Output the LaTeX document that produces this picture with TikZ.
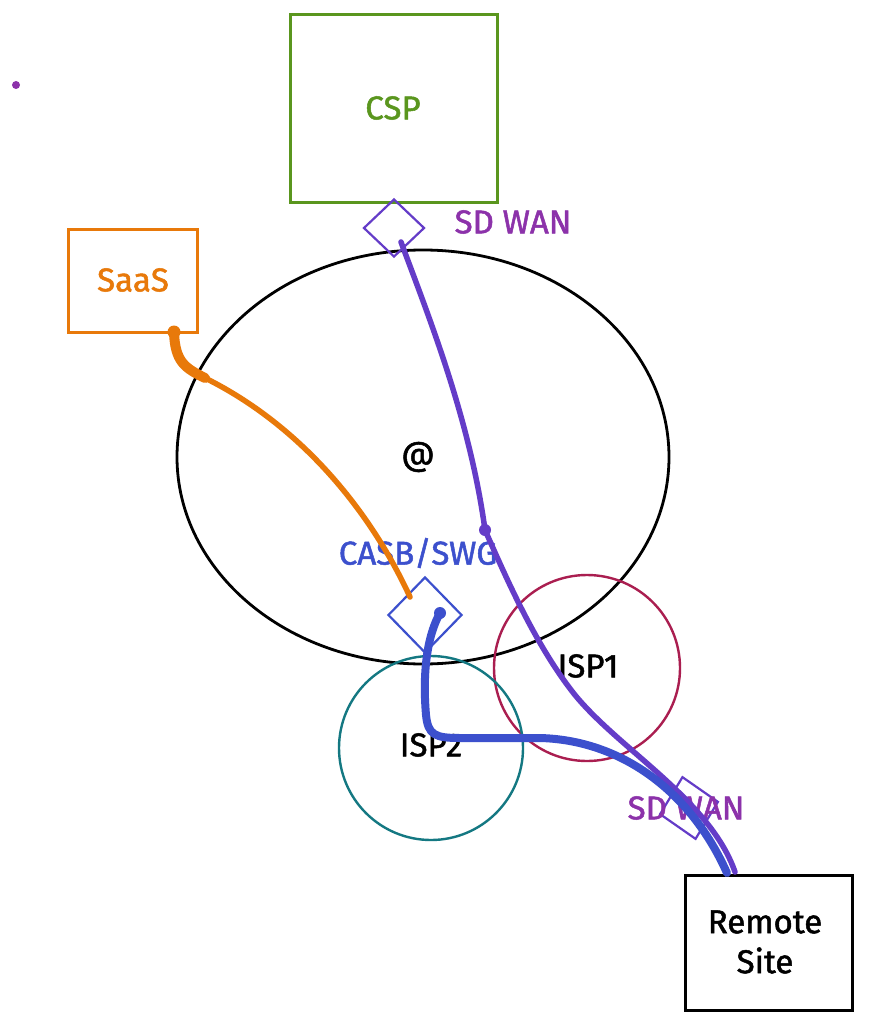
\documentclass[tikz,border=0pt]{standalone}
\usepackage{fontspec}
\setmainfont{Fira Sans}
\newfontfamily\sketchfont{Fira Sans}[FakeBold=1.5]
\usetikzlibrary{shapes.geometric}
\definecolor{cspgreen}{RGB}{90,150,30}
\definecolor{saasorange}{RGB}{232,121,10}
\definecolor{sdpurple}{RGB}{140,50,170}
\definecolor{linepurple}{RGB}{100,60,200}
\definecolor{casbblue}{RGB}{60,80,205}
\definecolor{ispred}{RGB}{170,30,80}
\definecolor{ispteal}{RGB}{20,120,130}
\tikzset{
  boxstyle/.style={draw, rectangle, line width=3pt, inner sep=0pt},
  ringstyle/.style={draw, circle, line width=2.4pt, inner sep=0pt},
  gatestyle/.style={draw, diamond, line width=2.2pt, inner sep=0pt},
  lbl/.style={font=\sketchfont\fontsize{33}{40}\selectfont},
}
\begin{document}
\begin{tikzpicture}[x=1pt,y=-1pt]
\useasboundingbox[fill=white] (0,0) rectangle (869,1024);

% decorative dot
\fill[sdpurple] (16,85) circle (4);

% big internet ellipse
\node[draw, ellipse, line width=2.8pt, minimum width=492pt, minimum height=414pt, inner sep=0pt] (net) at (423,457) {};
\node[lbl] (at) at (418,457) {@};

% ISP circles
\node[ringstyle, draw=ispred, minimum size=186pt] (isp1) at (587,668) {};
\node[ringstyle, draw=ispteal, minimum size=184pt] (isp2) at (431,748) {};
\node[lbl] (isp1t) at (588,666) {ISP1};
\node[lbl] (isp2t) at (431,745) {ISP2};

% boxes
\node[boxstyle, draw=cspgreen, minimum width=207pt, minimum height=188pt] (csp) at (393.5,109) {};
\node[lbl, text=cspgreen] (csplbl) at (393,108) {CSP};
\node[boxstyle, draw=saasorange, minimum width=129pt, minimum height=102pt] (saas) at (132.5,281) {};
\node[lbl, text=saasorange] (saaslbl) at (133,280) {SaaS};
\node[boxstyle, draw=black, minimum width=167pt, minimum height=135pt] (remote) at (768.5,942.5) {};
\node[lbl, align=center] (remotelbl) at (765,942) {Remote\\ Site};

% gateways
\node[gatestyle, draw=linepurple, minimum width=61pt, minimum height=58pt] (sdtop) at (394,228) {};
\node[lbl, text=sdpurple] (sdtoplbl) at (513,222) {SD WAN};
\node[gatestyle, draw=casbblue, minimum width=74pt, minimum height=76pt] (casb) at (425,615) {};
\node[lbl, text=casbblue] (casblbl) at (418,553) {CASB/SWG};
\node[gatestyle, draw=linepurple, minimum width=60pt, minimum height=64pt, rotate=12] (sdlow) at (689,808) {};
\node[lbl, text=sdpurple] (sdlowlbl) at (686,808) {SD WAN};

% connector coordinates
\coordinate (oStart) at (174,332);
\coordinate (oMid) at (205,378);
\coordinate (oEnd) at (410,597);
\coordinate (pStart) at (401,242);
\coordinate (pMid) at (485,530);
\coordinate (pEnd) at (735,872);
\coordinate (bStart) at (440,613);
\coordinate (bEnd) at (727,873);

% SaaS -> CASB (orange)
\draw[saasorange, line width=10pt, line cap=round] (oStart) .. controls (175,362) and (185,368) .. (oMid);
\draw[saasorange, line width=5.5pt, line cap=round] (oMid) .. controls (300,425) and (370,510) .. (oEnd);
\fill[saasorange] (oStart) circle (6.5);

% CSP SD WAN -> Remote Site (purple)
\draw[linepurple, line width=5.5pt, line cap=round]
  (pStart) .. controls (430,320) and (470,420) .. (pMid)
  .. controls (505,575) and (535,645) .. (575,695)
  .. controls (620,750) and (710,800) .. (pEnd);
\fill[linepurple] (pMid) circle (6);

% CASB -> Remote Site (blue)
\draw[casbblue, line width=8pt, line cap=round]
  (bStart) .. controls (425,640) and (423,680) .. (426,715)
  .. controls (428,735) and (435,738) .. (460,738)
  -- (540,738)
  .. controls (620,740) and (690,790) .. (bEnd);
\fill[casbblue] (bStart) circle (6);

\end{tikzpicture}
\end{document}
